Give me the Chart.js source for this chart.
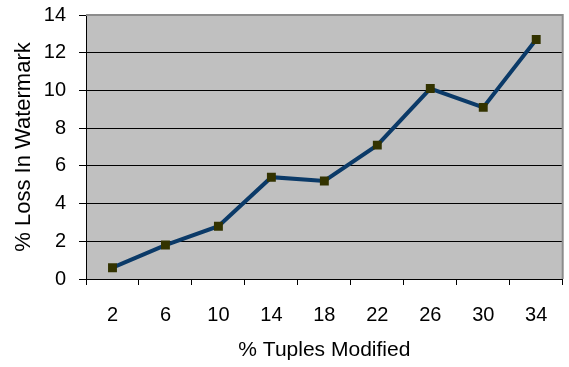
<!DOCTYPE html>
<html>
<head>
<meta charset="utf-8">
<script src="https://cdn.jsdelivr.net/npm/chart.js@4/dist/chart.umd.min.js"></script>
<style>
  html, body { margin: 0; padding: 0; background: #fff; }
  #wrap { width: 569px; height: 367px; position: relative; }
</style>
</head>
<body>
<div id="wrap"><canvas id="c" width="569" height="367"></canvas></div>
<script>
// % tuples modified vs. % loss in watermark
const tuplesModified = ['2', '6', '10', '14', '18', '22', '26', '30', '34'];
const lossInWatermark = [0.6, 1.8, 2.8, 5.4, 5.2, 7.1, 10.1, 9.1, 12.7];
const yTicks = [0, 2, 4, 6, 8, 10, 12, 14];

// Grey plot area with a thin grey frame on the top and right
const plotFrame = {
  id: 'plotFrame',
  beforeDraw(chart) {
    const { ctx, chartArea: a } = chart;
    ctx.save();
    ctx.fillStyle = '#c0c0c0';
    ctx.fillRect(a.left, a.top, a.right - a.left, a.bottom - a.top);
    ctx.restore();
  },
  afterDatasetsDraw(chart) {
    const { ctx, chartArea: a } = chart;
    ctx.save();
    ctx.strokeStyle = '#8c8c8c';
    ctx.lineWidth = 2;
    ctx.beginPath();
    ctx.moveTo(a.left, a.top);
    ctx.lineTo(a.right, a.top);
    ctx.lineTo(a.right, a.bottom);
    ctx.stroke();
    ctx.restore();
  }
};

const family = 'Liberation Sans, Arial, sans-serif';
const tickFont = { family, size: 20 };

new Chart(document.getElementById('c'), {
  type: 'line',
  data: {
    labels: tuplesModified,
    datasets: [{
      data: lossInWatermark,
      borderColor: '#0b3a68',
      borderWidth: 4,
      pointStyle: 'rect',
      pointRadius: 6.3,
      pointHoverRadius: 6.3,
      pointBackgroundColor: '#333300',
      pointBorderColor: '#333300',
      pointBorderWidth: 0,
      tension: 0
    }]
  },
  options: {
    responsive: false,
    animation: false,
    devicePixelRatio: 1,
    layout: { padding: { top: 15, right: 2, left: 0, bottom: 0 } },
    plugins: { legend: { display: false }, tooltip: { enabled: false } },
    scales: {
      x: {
        type: 'category',
        offset: true,
        grid: { offset: true, drawOnChartArea: false, drawTicks: true, tickLength: 6, color: '#000', lineWidth: 1 },
        border: { display: true, color: '#000', width: 1 },
        ticks: { color: '#000', font: tickFont, padding: 18, maxRotation: 0 },
        title: { display: true, text: '% Tuples Modified', color: '#000', font: { family, size: 21 }, padding: { top: 4, bottom: 4 } },
        afterFit(s) { s.height = 88; s.paddingLeft = 0; s.paddingRight = 0; }
      },
      y: {
        min: 0,
        max: 14,
        afterBuildTicks(s) { s.ticks = yTicks.map(v => ({ value: v })); },
        grid: { color: '#000', lineWidth: 1, drawTicks: true, tickLength: 7 },
        border: { display: true, color: '#000', width: 1 },
        ticks: { color: '#000', font: tickFont, padding: 13 },
        title: { display: true, text: '% Loss In Watermark', color: '#000', font: { family, size: 22 }, padding: { top: 11, bottom: 4 } },
        afterFit(s) { s.width = 86; s.paddingTop = 0; s.paddingBottom = 0; }
      }
    }
  },
  plugins: [plotFrame]
});
</script>
</body>
</html>
